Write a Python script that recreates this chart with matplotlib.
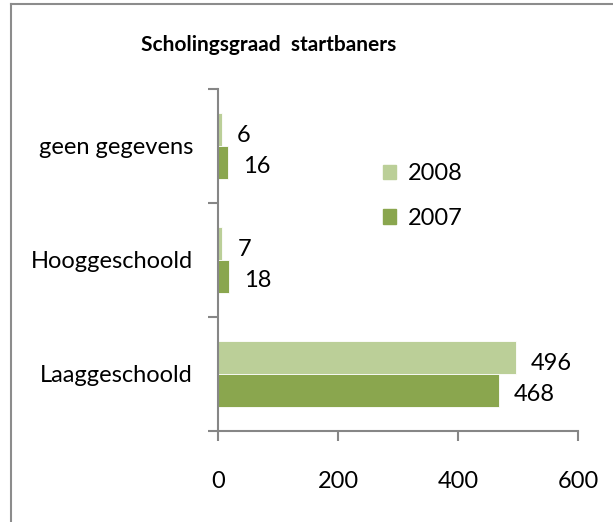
import matplotlib as mpl
mpl.use("Agg")
import matplotlib.pyplot as plt
from matplotlib.patches import Patch
from matplotlib.lines import Line2D

categories = ["Laaggeschoold", "Hooggeschoold", "geen gegevens"]
values_2008 = [496, 7, 6]
values_2007 = [468, 18, 16]
series_names = ["2008", "2007"]
xticks = [0, 200, 400, 600]

color_2008 = "#BBCF98"
color_2007 = "#8AA64E"
axis_color = "#868686"


def main():
    plt.rcParams["font.family"] = ["Lato", "DejaVu Sans"]
    plt.rcParams["font.size"] = 17

    fig = plt.figure(figsize=(6.13, 5.22), dpi=100)
    ax = fig.add_axes([218 / 613, 1 - 431 / 522, 360 / 613, 342 / 522])

    h = 0.29
    pos = list(range(len(categories)))
    ax.barh([p + h / 2 for p in pos], values_2008, height=h,
            color=color_2008, edgecolor="white", linewidth=0.6)
    ax.barh([p - h / 2 for p in pos], values_2007, height=h,
            color=color_2007, edgecolor="white", linewidth=0.6)
    for p, v in zip(pos, values_2008):
        ax.annotate(str(v), (v, p + h / 2), xytext=(11, -4),
                    textcoords="offset points", ha="left", va="center", fontsize=17)
    for p, v in zip(pos, values_2007):
        ax.annotate(str(v), (v, p - h / 2), xytext=(11, -3),
                    textcoords="offset points", ha="left", va="center", fontsize=17)

    ax.set_xlim(0, 600)
    ax.set_ylim(-0.5, 2.5)
    ax.set_xticks(xticks)
    ax.set_yticks([-0.5, 0.5, 1.5, 2.5])
    ax.set_yticklabels([])
    ax.set_yticks(pos, minor=True)
    ax.set_yticklabels(categories, minor=True)
    ax.tick_params(axis="y", which="minor", length=0, pad=18)
    ax.tick_params(axis="y", which="major", length=7, width=1.5,
                   color=axis_color, direction="out")
    ax.tick_params(axis="x", length=7, width=1.5, color=axis_color,
                   direction="out", pad=22)

    for s in ["top", "right"]:
        ax.spines[s].set_visible(False)
    for s in ["left", "bottom"]:
        ax.spines[s].set_color(axis_color)
        ax.spines[s].set_linewidth(1.5)

    handles = [Patch(color=color_2008), Patch(color=color_2007)]
    fig.legend(handles, series_names, loc="center left",
               bbox_to_anchor=(362 / 613, 1 - 196 / 522), frameon=False,
               handlelength=0.55, handleheight=0.55, handletextpad=0.5,
               labelspacing=1.0, fontsize=17)

    fig.text(269 / 613, 1 - 45 / 522, "Scholingsgraad  startbaners",
             ha="center", va="center", fontsize=15, fontweight="bold")

    # chart frame (only top and left edges visible)
    fig.add_artist(Line2D([11 / 613, 11 / 613], [0, 1 - 4 / 522],
                          transform=fig.transFigure, color="#8C8C8C", lw=1.5))
    fig.add_artist(Line2D([11 / 613, 1], [1 - 4 / 522, 1 - 4 / 522],
                          transform=fig.transFigure, color="#8C8C8C", lw=1.5))

    fig.savefig("out.png", dpi=100)
    plt.close(fig)


if __name__ == "__main__":
    main()
